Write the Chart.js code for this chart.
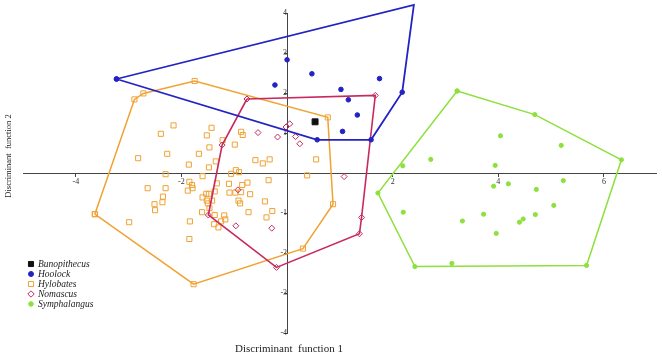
<!DOCTYPE html>
<html>
<head>
<meta charset="utf-8">
<script src="https://cdn.jsdelivr.net/npm/chart.js@4/dist/chart.umd.min.js"></script>
<style>
  html, body { margin: 0; padding: 0; background: #fff; }
  #wrap { width: 662px; height: 356px; }
</style>
</head>
<body>
<div id="wrap"><canvas id="dfa-chart" width="662" height="356"></canvas></div>
<script>
// Tick values shown on the two centred axes
const xTicks = [-4, -2, 2, 4, 6];
const yTicks = [-4, -3, -2, -1, 1, 2, 3, 4];

// Species names, in legend order
const speciesNames = ['Bunopithecus', 'Hoolock', 'Hylobates', 'Nomascus', 'Symphalangus'];

// Discriminant scores [DF1, DF2]
const bunopithecus = [[0.53, 1.28]];

const hoolockHull = [[-3.23, 2.35], [2.4, 4.2], [2.18, 2.02], [1.59, 0.83], [0.57, 0.83]];
const hoolockInner = [[0.0, 2.83], [-0.23, 2.2], [0.47, 2.48], [1.02, 2.09], [1.16, 1.83],
  [1.33, 1.45], [1.05, 1.04], [1.75, 2.36]];

const hylobatesHull = [[-3.64, -1.03], [-2.89, 1.84], [-2.72, 1.99], [-1.75, 2.30], [0.77, 1.39],
  [0.87, -0.78], [0.30, -1.89], [-1.77, -2.78]];
const hylobatesInner = [[-2.15, 1.19], [-1.43, 1.13], [-2.39, 0.98], [-1.52, 0.94], [-0.87, 1.03],
  [-0.84, 0.95], [-1.22, 0.82], [-0.99, 0.71], [-1.47, 0.64], [-2.27, 0.48], [-1.67, 0.48],
  [-2.82, 0.37], [-1.35, 0.29], [-1.86, 0.21], [-1.48, 0.14], [-0.6, 0.32], [-0.46, 0.24],
  [-0.33, 0.34], [0.55, 0.34], [0.38, -0.06], [-2.3, -0.03], [-1.6, -0.08], [-1.06, -0.02],
  [-0.97, 0.07], [-0.91, 0.02], [-0.35, -0.18], [-1.85, -0.22], [-1.8, -0.3], [-1.79, -0.38],
  [-1.88, -0.44], [-2.64, -0.38], [-2.3, -0.38], [-2.35, -0.59], [-2.36, -0.73], [-2.51, -0.78],
  [-2.5, -0.93], [-2.99, -1.23], [-1.84, -1.21], [-1.85, -1.65], [-1.33, -0.26], [-1.1, -0.27],
  [-0.85, -0.3], [-0.75, -0.24], [-1.53, -0.52], [-1.48, -0.52], [-1.37, -0.46], [-1.09, -0.49],
  [-0.98, -0.49], [-0.87, -0.48], [-0.7, -0.53], [-1.6, -0.61], [-1.52, -0.69], [-1.42, -0.69],
  [-1.5, -0.76], [-0.92, -0.69], [-0.89, -0.76], [-0.42, -0.71], [-1.61, -0.98], [-1.47, -0.88],
  [-1.37, -1.05], [-1.19, -1.06], [-1.17, -1.16], [-1.25, -1.21], [-1.38, -1.28], [-1.3, -1.36],
  [-0.73, -0.98], [-0.28, -0.95], [-0.39, -1.11]];

const nomascusHull = [[-0.76, 1.85], [1.67, 1.94], [1.41, -1.11], [1.37, -1.52], [-0.2, -2.36],
  [-1.49, -1.05], [-1.23, 0.70]];
const nomascusInner = [[-0.55, 1.01], [-0.18, 0.9], [-0.02, 1.15], [0.05, 1.23], [0.16, 0.91],
  [0.24, 0.73], [1.08, -0.09], [-0.29, -1.38], [-0.93, -0.42], [-0.97, -1.32]];

const symphalangusHull = [[3.22, 2.05], [4.69, 1.46], [6.33, 0.33], [5.67, -2.31], [2.42, -2.34],
  [1.72, -0.5]];
const symphalangusInner = [[2.19, 0.18], [2.72, 0.34], [4.04, 0.93], [5.19, 0.69], [3.94, 0.19],
  [3.91, -0.33], [4.19, -0.27], [5.23, -0.19], [4.72, -0.41], [5.05, -0.81], [4.70, -1.04],
  [4.47, -1.15], [4.40, -1.23], [3.72, -1.03], [3.32, -1.2], [2.2, -0.98], [3.96, -1.51],
  [3.12, -2.26]];

// Marker look per species
const speciesStyle = {
  Bunopithecus: { color: '#111111', fill: '#111111', pointStyle: 'rect', radius: 4.2, lineWidth: 1.6 },
  Hoolock: { color: '#2323c4', fill: '#2323c4', pointStyle: 'circle', radius: 2.3, lineWidth: 1.8 },
  Hylobates: { color: '#f0a233', fill: 'rgba(255,255,255,0)', pointStyle: 'rect', radius: 3.6, lineWidth: 1.5 },
  Nomascus: { color: '#c92a5e', fill: 'rgba(255,255,255,0)', pointStyle: 'rectRot', radius: 3, lineWidth: 1.6 },
  Symphalangus: { color: '#8ee03c', fill: '#8ee03c', pointStyle: 'circle', radius: 2.1, lineWidth: 1.5 }
};

function toPoints(pairs) {
  return pairs.map(p => ({ x: p[0], y: p[1] }));
}

// Scatter dataset for the plain points
function pointSet(name, pairs, order) {
  const s = speciesStyle[name];
  return {
    label: name,
    data: toPoints(pairs),
    showLine: false,
    pointStyle: s.pointStyle,
    pointRadius: s.radius,
    pointBorderWidth: 1,
    pointBorderColor: s.color,
    pointBackgroundColor: s.fill,
    clip: false,
    order: order
  };
}

// Closed outline through the hull points (the hull points get markers too)
function hullSet(name, pairs, order) {
  const s = speciesStyle[name];
  const closed = pairs.concat([pairs[0]]);
  return {
    label: name + ' hull',
    data: toPoints(closed),
    showLine: true,
    fill: false,
    tension: 0,
    borderColor: s.color,
    borderWidth: s.lineWidth,
    pointStyle: s.pointStyle,
    pointRadius: s.radius,
    pointBorderWidth: 1,
    pointBorderColor: s.color,
    pointBackgroundColor: s.fill,
    clip: false,
    order: order
  };
}

// Axis titles drawn at the page edges, like the original figure
const axisTitles = {
  id: 'axisTitles',
  afterDraw(chart) {
    const ctx = chart.ctx;
    ctx.save();
    ctx.fillStyle = '#222';
    ctx.textAlign = 'center';
    ctx.textBaseline = 'middle';
    ctx.font = '11px "Liberation Serif", "Times New Roman", serif';
    ctx.fillText('Discriminant  function 1', 289, 349);
    ctx.translate(9, 156);
    ctx.rotate(-Math.PI / 2);
    ctx.font = '8.5px "Liberation Serif", "Times New Roman", serif';
    ctx.fillText('Discriminant  function 2', 0, 0);
    ctx.restore();
  }
};

// Small legend at the lower left
const speciesLegend = {
  id: 'speciesLegend',
  afterDraw(chart) {
    const ctx = chart.ctx;
    ctx.save();
    ctx.font = 'italic 9.5px "Liberation Serif", "Times New Roman", serif';
    ctx.textBaseline = 'middle';
    ctx.textAlign = 'left';
    speciesNames.forEach((name, i) => {
      const s = speciesStyle[name];
      const y = 264 + i * 10;
      ctx.strokeStyle = s.color;
      ctx.fillStyle = s.fill;
      ctx.lineWidth = 1;
      Chart.helpers.drawPoint(ctx, { pointStyle: s.pointStyle, radius: Math.min(s.radius, 3.4) + 0.2, borderWidth: 1 }, 31, y);
      ctx.fillStyle = '#222';
      ctx.fillText(name, 38, y + 0.5);
    });
    ctx.restore();
  }
};

const tickFont = { family: '"Liberation Serif", "Times New Roman", serif', size: 8 };

new Chart('dfa-chart', {
  type: 'scatter',
  data: {
    datasets: [
      pointSet('Bunopithecus', bunopithecus, 0),
      hullSet('Symphalangus', symphalangusHull, 1),
      pointSet('Symphalangus', symphalangusInner, 1),
      hullSet('Hoolock', hoolockHull, 2),
      pointSet('Hoolock', hoolockInner, 2),
      hullSet('Nomascus', nomascusHull, 3),
      pointSet('Nomascus', nomascusInner, 3),
      hullSet('Hylobates', hylobatesHull, 4),
      pointSet('Hylobates', hylobatesInner, 4)
    ]
  },
  options: {
    responsive: false,
    animation: false,
    layout: { padding: { left: 23, right: 3, top: 13, bottom: 23 } },
    plugins: {
      legend: { display: false },
      tooltip: { enabled: false }
    },
    scales: {
      x: {
        type: 'linear',
        position: { y: 0 },
        min: -5,
        max: 7,
        afterBuildTicks(scale) {
          scale.ticks = xTicks.map(v => ({ value: v }));
        },
        grid: { drawOnChartArea: false, drawTicks: true, tickLength: 3, color: '#444' },
        border: { display: true, color: '#444', width: 1 },
        ticks: { font: tickFont, color: '#333', padding: 1, maxRotation: 0, autoSkip: false }
      },
      y: {
        type: 'linear',
        position: { x: 0 },
        min: -4,
        max: 4,
        afterBuildTicks(scale) {
          scale.ticks = yTicks.map(v => ({ value: v }));
        },
        grid: { drawOnChartArea: false, drawTicks: true, tickLength: 3, color: '#444' },
        border: { display: true, color: '#444', width: 1 },
        ticks: { font: tickFont, color: '#333', padding: 4, autoSkip: false }
      }
    }
  },
  plugins: [axisTitles, speciesLegend]
});
</script>
</body>
</html>
